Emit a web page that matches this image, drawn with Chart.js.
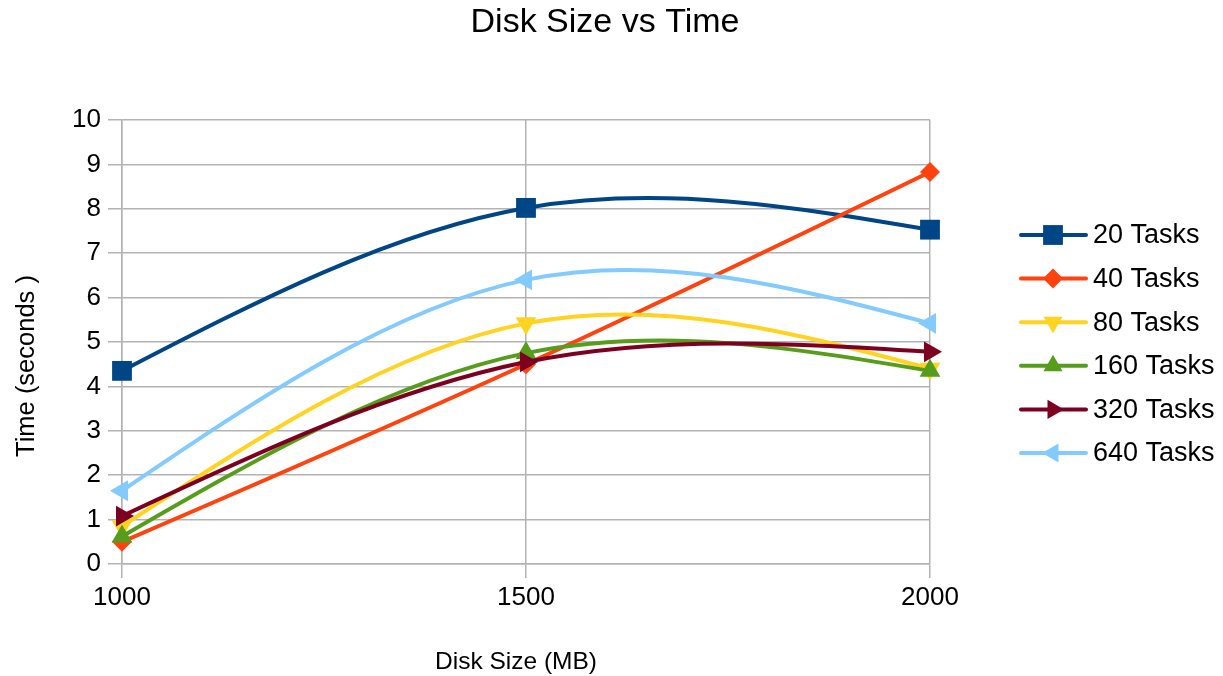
<!DOCTYPE html>
<html>
<head>
<meta charset="utf-8">
<title>Disk Size vs Time</title>
<script src="https://cdn.jsdelivr.net/npm/chart.js@4/dist/chart.umd.min.js"></script>
<style>
  html, body { margin: 0; padding: 0; background: #ffffff; }
  #wrap { width: 1223px; height: 676px; position: relative; }
</style>
</head>
<body>
<div id="wrap"><canvas id="chart" width="1223" height="676"></canvas></div>
<script>
// Disk sizes (MB) on the horizontal axis
const diskSizes = ['1000', '1500', '2000'];
// Y tick range (seconds)
const yMin = 0;
const yMax = 10;

// Run times in seconds per task count
const seriesNames = ['20 Tasks', '40 Tasks', '80 Tasks', '160 Tasks', '320 Tasks', '640 Tasks'];
const tasks20  = [4.35, 8.02, 7.53];
const tasks40  = [0.50, 4.50, 8.83];
const tasks80  = [0.85, 5.42, 4.40];
const tasks160 = [0.62, 4.75, 4.35];
const tasks320 = [1.08, 4.55, 4.78];
const tasks640 = [1.65, 6.40, 5.42];

const seriesValues = [tasks20, tasks40, tasks80, tasks160, tasks320, tasks640];
const seriesColors = ['#004586', '#ff420e', '#ffd320', '#579d1c', '#7e0021', '#83caff'];
const seriesMarkers = [
  { style: 'rect',     rotation: 0,   radius: 14, legendRadius: 14 },
  { style: 'rectRot',  rotation: 0,   radius: 10, legendRadius: 10 },
  { style: 'triangle', rotation: 180, radius: 12, legendRadius: 11 },
  { style: 'triangle', rotation: 0,   radius: 12, legendRadius: 11 },
  { style: 'triangle', rotation: 90,  radius: 12, legendRadius: 11 },
  { style: 'triangle', rotation: -90, radius: 12, legendRadius: 11 }
];

const FONT = '"Liberation Sans", Arial, sans-serif';
const TEXT = '#000000';
const GRID = '#b3b3b3';
const LINE_WIDTH = 4;

const datasets = seriesNames.map((name, i) => ({
  label: name,
  data: seriesValues[i],
  borderColor: seriesColors[i],
  backgroundColor: seriesColors[i],
  borderWidth: LINE_WIDTH,
  tension: 0.4,
  pointStyle: seriesMarkers[i].style,
  pointRotation: seriesMarkers[i].rotation,
  pointRadius: seriesMarkers[i].radius,
  pointBackgroundColor: seriesColors[i],
  pointBorderColor: seriesColors[i],
  pointBorderWidth: 0,
  clip: false,
  order: seriesNames.length - i
}));

// Slopes (dy/dx) of a natural cubic spline through the given knots
function naturalSplineSlopes(xs, ys) {
  const n = xs.length;
  if (n < 2) return [0];
  const h = [];
  for (let i = 0; i < n - 1; i++) h.push(xs[i + 1] - xs[i]);
  const M = new Array(n).fill(0);
  if (n > 2) {
    const a = [], b = [], c = [], d = [];
    for (let i = 1; i < n - 1; i++) {
      a.push(h[i - 1]);
      b.push(2 * (h[i - 1] + h[i]));
      c.push(h[i]);
      d.push(6 * ((ys[i + 1] - ys[i]) / h[i] - (ys[i] - ys[i - 1]) / h[i - 1]));
    }
    const m = b.length;
    for (let k = 1; k < m; k++) {
      const w = a[k] / b[k - 1];
      b[k] -= w * c[k - 1];
      d[k] -= w * d[k - 1];
    }
    const sol = new Array(m);
    sol[m - 1] = d[m - 1] / b[m - 1];
    for (let k = m - 2; k >= 0; k--) sol[k] = (d[k] - c[k] * sol[k + 1]) / b[k];
    for (let k = 0; k < m; k++) M[k + 1] = sol[k];
  }
  const slopes = [];
  for (let i = 0; i < n; i++) {
    if (i < n - 1) slopes.push((ys[i + 1] - ys[i]) / h[i] - h[i] * (2 * M[i] + M[i + 1]) / 6);
    else slopes.push((ys[i] - ys[i - 1]) / h[i - 1] + h[i - 1] * (M[i - 1] + 2 * M[i]) / 6);
  }
  return slopes;
}

// Replace the default bezier handles with natural cubic spline handles
const naturalSpline = {
  id: 'naturalSpline',
  beforeDatasetsDraw(chart) {
    chart.data.datasets.forEach((ds, di) => {
      const meta = chart.getDatasetMeta(di);
      const line = meta.dataset;
      if (!line) return;
      line.updateControlPoints(chart.chartArea, meta.iScale.axis);
      const pts = meta.data;
      const xs = pts.map(p => p.x);
      const ys = pts.map(p => p.y);
      const slopes = naturalSplineSlopes(xs, ys);
      pts.forEach((p, i) => {
        const dxPrev = i > 0 ? (xs[i] - xs[i - 1]) / 3 : 0;
        const dxNext = i < pts.length - 1 ? (xs[i + 1] - xs[i]) / 3 : 0;
        p.cp1x = xs[i] - dxPrev;
        p.cp1y = ys[i] - slopes[i] * dxPrev;
        p.cp2x = xs[i] + dxNext;
        p.cp2y = ys[i] + slopes[i] * dxNext;
      });
      line._path = undefined;
    });
  }
};

// Title, axis titles and the line-with-marker legend
const decorations = {
  id: 'decorations',
  afterDraw(chart) {
    const ctx = chart.ctx;
    ctx.save();
    ctx.fillStyle = TEXT;
    ctx.textBaseline = 'middle';

    ctx.textAlign = 'center';
    ctx.font = '34px ' + FONT;
    ctx.fillText('Disk Size vs Time', 605, 23);

    ctx.font = '24.5px ' + FONT;
    ctx.fillText('Disk Size (MB)', 516, 662);

    ctx.save();
    ctx.translate(27, 366);
    ctx.rotate(-Math.PI / 2);
    ctx.font = '25.5px ' + FONT;
    ctx.fillText('Time (seconds )', 0, 0);
    ctx.restore();

    const rowTop = 235;
    const rowStep = 43.6;
    seriesNames.forEach((name, i) => {
      const y = rowTop + i * rowStep;
      ctx.strokeStyle = seriesColors[i];
      ctx.lineWidth = LINE_WIDTH;
      ctx.lineCap = 'round';
      ctx.beginPath();
      ctx.moveTo(1021, y);
      ctx.lineTo(1086, y);
      ctx.stroke();

      ctx.fillStyle = seriesColors[i];
      ctx.strokeStyle = seriesColors[i];
      Chart.helpers.drawPoint(ctx, {
        pointStyle: seriesMarkers[i].style,
        rotation: seriesMarkers[i].rotation,
        radius: seriesMarkers[i].legendRadius,
        borderWidth: 0
      }, 1053, y);

      ctx.fillStyle = TEXT;
      ctx.textAlign = 'left';
      ctx.font = '27px ' + FONT;
      ctx.fillText(name, 1093, y + 1);
    });
    ctx.restore();
  }
};

new Chart(document.getElementById('chart'), {
  type: 'line',
  data: { labels: diskSizes, datasets },
  plugins: [naturalSpline, decorations],
  options: {
    responsive: false,
    animation: false,
    events: [],
    layout: { padding: { top: 120, right: 293, bottom: 0, left: 0 } },
    plugins: {
      legend: { display: false },
      title: { display: false },
      tooltip: { enabled: false }
    },
    scales: {
      x: {
        type: 'category',
        offset: false,
        grid: { color: GRID, lineWidth: 1.5, tickLength: 14, tickColor: GRID },
        border: { color: GRID, width: 1.5 },
        ticks: { color: TEXT, font: { family: FONT, size: 26 }, padding: 4, maxRotation: 0 },
        afterFit(scale) { scale.height = 112; }
      },
      y: {
        min: yMin,
        max: yMax,
        grid: { color: GRID, lineWidth: 1.5, tickLength: 14, tickColor: GRID },
        border: { color: GRID, width: 1.5 },
        ticks: { stepSize: 1, color: TEXT, font: { family: FONT, size: 26 }, padding: 7 },
        afterFit(scale) { scale.width = 122; }
      }
    }
  }
});
</script>
</body>
</html>
